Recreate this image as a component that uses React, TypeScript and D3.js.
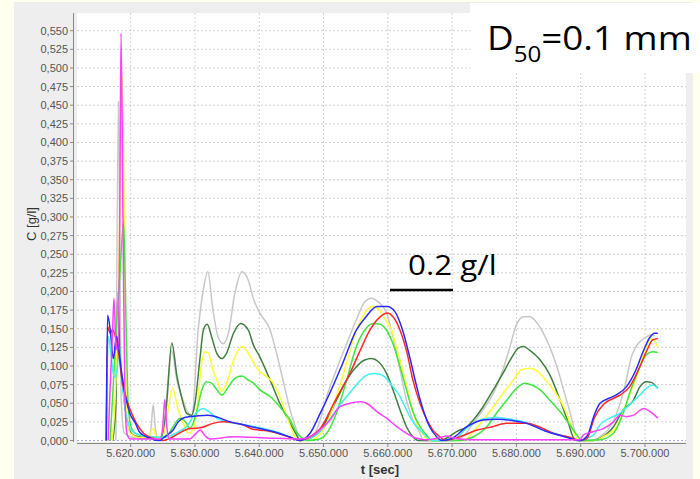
import React from "react";
import * as d3 from "d3";

// concentration series, [t (thousands), C g/l]
const graySeries: [number, number][] = [
  [5617.7, 0], [5618.1, 0.455], [5618.5, 0.06], [5619.0, 0.01], [5620.0, 0.005], [5622.7, 0.002],
  [5623.2, 0.02], [5623.5, 0.048], [5623.8, 0.02], [5624.2, 0.002], [5625.0, 0.01], [5625.6, 0.06],
  [5626.4, 0.12], [5627.2, 0.08], [5627.9, 0.06], [5628.7, 0.041], [5629.5, 0.032], [5630.5, 0.148],
  [5631.3, 0.202], [5632.0, 0.2265], [5632.8, 0.175], [5633.6, 0.139], [5634.4, 0.13], [5635.2, 0.144],
  [5636.2, 0.1975], [5637.3, 0.2265], [5638.3, 0.215], [5639.1, 0.19], [5640.1, 0.171], [5641.7, 0.148],
  [5642.7, 0.117], [5643.7, 0.081], [5644.8, 0.041], [5645.8, 0.014], [5646.3, 0], [5647.9, 0.002],
  [5649.2, 0.02], [5650.5, 0.059], [5652.0, 0.095], [5653.6, 0.13], [5655.1, 0.162], [5656.4, 0.186],
  [5657.5, 0.191], [5658.5, 0.186], [5659.8, 0.171], [5660.8, 0.139], [5661.9, 0.095], [5662.9, 0.054],
  [5663.9, 0.0275], [5665.0, 0.0097], [5665.5, 0], [5670.4, 0], [5672.0, 0.008], [5673.3, 0.023],
  [5674.8, 0.041], [5676.4, 0.063], [5677.9, 0.095], [5679.0, 0.126], [5680.0, 0.155], [5681.1, 0.166],
  [5682.1, 0.166], [5683.1, 0.159], [5684.7, 0.135], [5686.3, 0.099], [5687.8, 0.054], [5688.8, 0.023],
  [5689.4, 0], [5691.5, 0], [5693.0, 0.005], [5695.3, 0.03], [5696.8, 0.07], [5698.0, 0.115],
  [5700.2, 0.139], [5701.1, 0.142], [5701.5, 0.14],
];

const darkGreenSeries: [number, number][] = [
  [5617.2, 0], [5617.7, 0.05], [5618.0, 0.2], [5618.3, 0.12], [5618.8, 0.07], [5619.3, 0.035],
  [5619.9, 0.012], [5620.7, 0.006], [5622.2, 0.004], [5623.8, 0.002], [5624.6, 0.002], [5625.1, 0.01],
  [5625.6, 0.05], [5626.4, 0.131], [5627.2, 0.086], [5627.9, 0.059], [5628.7, 0.0365], [5629.5, 0.034],
  [5630.0, 0.05], [5630.8, 0.112], [5631.3, 0.148], [5631.9, 0.156], [5632.6, 0.139], [5633.4, 0.117],
  [5634.2, 0.11], [5634.9, 0.117], [5636.0, 0.144], [5637.1, 0.157], [5638.3, 0.148], [5639.1, 0.128],
  [5640.1, 0.112], [5641.7, 0.081], [5643.2, 0.05], [5644.8, 0.023], [5645.8, 0.0074], [5646.3, 0],
  [5647.6, 0.002], [5648.9, 0.008], [5650.5, 0.0275], [5652.0, 0.054], [5653.6, 0.081], [5655.1, 0.099],
  [5656.4, 0.108], [5657.5, 0.11], [5658.5, 0.106], [5659.8, 0.09], [5660.8, 0.068], [5661.9, 0.041],
  [5662.9, 0.0185], [5663.9, 0.005], [5664.7, 0], [5668.1, 0], [5669.1, 0.003], [5670.7, 0.012],
  [5672.3, 0.0185], [5673.3, 0.0275], [5674.8, 0.045], [5676.4, 0.068], [5677.9, 0.09], [5679.3, 0.112],
  [5680.3, 0.124], [5681.1, 0.126], [5682.1, 0.121], [5683.7, 0.108], [5685.2, 0.088], [5686.8, 0.054],
  [5688.1, 0.023], [5688.8, 0.005], [5689.4, 0], [5692.0, 0], [5693.0, 0.003], [5695.1, 0.0185],
  [5696.6, 0.041], [5698.2, 0.054], [5699.2, 0.072], [5700.2, 0.079], [5701.0, 0.078], [5702.0, 0.07],
];

const yellowSeries: [number, number][] = [
  [5617.1, 0], [5617.7, 0.08], [5618.2, 0.25], [5618.7, 0.49], [5619.0, 0.3], [5619.2, 0.12],
  [5619.4, 0.04], [5619.9, 0.01], [5621.4, 0.004], [5622.7, 0.004], [5623.5, 0.016], [5624.2, 0.002],
  [5625.0, 0.005], [5625.8, 0.04], [5626.5, 0.07], [5627.4, 0.041], [5628.2, 0.023], [5629.0, 0.0097],
  [5629.7, 0.014], [5630.3, 0.041], [5630.9, 0.095], [5631.6, 0.119], [5632.1, 0.117], [5632.8, 0.095],
  [5633.6, 0.077], [5634.2, 0.066], [5634.9, 0.077], [5636.2, 0.112], [5637.3, 0.126], [5638.3, 0.117],
  [5639.1, 0.105], [5639.8, 0.095], [5641.1, 0.086], [5642.2, 0.077], [5643.2, 0.059], [5644.3, 0.032],
  [5645.3, 0.0097], [5646.0, 0], [5647.5, 0], [5648.9, 0.004], [5650.5, 0.023], [5652.0, 0.059],
  [5653.6, 0.104], [5655.1, 0.148], [5656.4, 0.171], [5657.5, 0.18], [5658.5, 0.177], [5659.5, 0.164],
  [5660.6, 0.148], [5661.6, 0.117], [5662.7, 0.081], [5663.7, 0.045], [5664.7, 0.0185], [5665.8, 0.005],
  [5666.5, 0], [5671.7, 0], [5673.3, 0.012], [5674.8, 0.0275], [5676.4, 0.045], [5677.9, 0.063],
  [5679.5, 0.081], [5680.8, 0.095], [5682.1, 0.097], [5683.4, 0.092], [5684.9, 0.077], [5686.5, 0.059],
  [5687.8, 0.0365], [5688.8, 0.014], [5689.6, 0], [5692.2, 0], [5693.5, 0.005], [5695.6, 0.0185],
  [5697.1, 0.05], [5698.7, 0.086], [5700.0, 0.121], [5701.0, 0.137], [5701.5, 0.133], [5702.0, 0.126],
];

const greenSeries: [number, number][] = [
  [5616.8, 0], [5617.2, 0.06], [5617.9, 0.17], [5618.3, 0.22], [5618.9, 0.294], [5619.3, 0.15],
  [5619.6, 0.05], [5620.0, 0.02], [5620.7, 0.01], [5622.2, 0.006], [5624.6, 0.004], [5625.8, 0.008],
  [5626.6, 0.0185], [5627.7, 0.03], [5628.7, 0.023], [5629.2, 0.016], [5630.3, 0.04], [5631.0, 0.066],
  [5631.8, 0.079], [5632.6, 0.077], [5633.4, 0.068], [5634.2, 0.061], [5635.2, 0.072], [5636.2, 0.0835],
  [5637.3, 0.0866], [5638.3, 0.081], [5639.1, 0.077], [5640.1, 0.068], [5641.7, 0.059], [5643.2, 0.045],
  [5644.8, 0.0275], [5645.8, 0.011], [5646.6, 0.004], [5647.3, 0], [5649.4, 0.002], [5650.5, 0.0097],
  [5652.0, 0.0365], [5653.6, 0.081], [5655.1, 0.126], [5656.4, 0.148], [5657.7, 0.157], [5658.8, 0.156],
  [5659.8, 0.148], [5660.8, 0.13], [5661.9, 0.099], [5662.9, 0.068], [5663.9, 0.0387], [5665.0, 0.0185],
  [5666.0, 0.0074], [5666.9, 0], [5671.2, 0], [5673.3, 0.005], [5675.4, 0.0185], [5676.9, 0.0365],
  [5678.5, 0.054], [5680.0, 0.07], [5681.3, 0.077], [5682.4, 0.0745], [5683.7, 0.068], [5685.2, 0.054],
  [5686.8, 0.0387], [5688.3, 0.021], [5689.4, 0.0074], [5690.2, 0], [5693.0, 0.001], [5695.1, 0.0097],
  [5696.6, 0.0365], [5697.6, 0.063], [5699.2, 0.099], [5700.2, 0.115], [5701.2, 0.119], [5702.0, 0.118],
];

const cyanSeries: [number, number][] = [
  [5616.2, 0], [5616.5, 0.14], [5616.9, 0.12], [5617.4, 0.085], [5617.8, 0.09], [5618.2, 0.125],
  [5618.5, 0.1], [5619.0, 0.05], [5619.4, 0.03], [5620.0, 0.015], [5620.7, 0.01], [5622.2, 0.006],
  [5624.6, 0.004], [5626.1, 0.006], [5627.9, 0.014], [5628.7, 0.0185], [5629.7, 0.032], [5631.3, 0.043],
  [5632.1, 0.039], [5633.4, 0.03], [5635.4, 0.024], [5637.0, 0.022], [5640.1, 0.017], [5643.2, 0.01],
  [5645.6, 0.002], [5646.3, 0], [5647.9, 0.003], [5648.9, 0.0074], [5650.5, 0.023], [5652.0, 0.041],
  [5653.6, 0.059], [5655.1, 0.0745], [5656.4, 0.086], [5657.7, 0.09], [5658.8, 0.089], [5659.8, 0.083],
  [5660.8, 0.072], [5661.9, 0.059], [5662.9, 0.041], [5663.9, 0.025], [5665.0, 0.014], [5666.0, 0.005],
  [5666.9, 0], [5668.9, 0], [5670.4, 0.002], [5672.3, 0.017], [5674.8, 0.029], [5677.0, 0.031],
  [5679.5, 0.028], [5681.6, 0.024], [5684.7, 0.013], [5687.8, 0.005], [5689.9, 0], [5690.9, 0.003],
  [5692.0, 0.0074], [5693.0, 0.021], [5694.5, 0.03], [5696.1, 0.0365], [5697.6, 0.048], [5699.2, 0.061],
  [5700.2, 0.07], [5701.2, 0.0745], [5702.0, 0.07],
];

const redSeries: [number, number][] = [
  [5616.2, 0], [5616.4, 0.153], [5616.8, 0.144], [5617.2, 0.149], [5617.6, 0.14], [5618.0, 0.125],
  [5618.3, 0.105], [5618.8, 0.074], [5619.4, 0.054], [5619.9, 0.042], [5620.9, 0.023], [5622.0, 0.0097],
  [5623.5, 0.003], [5625.0, 0], [5626.6, 0.005], [5628.0, 0.012], [5629.2, 0.016], [5630.8, 0.017],
  [5632.8, 0.023], [5634.4, 0.025], [5635.9, 0.024], [5637.5, 0.021], [5639.0, 0.015], [5641.2, 0.013],
  [5643.2, 0.0087], [5644.8, 0.0043], [5646.3, 0], [5647.9, 0.005], [5649.4, 0.015], [5651.9, 0.055],
  [5654.1, 0.09], [5655.7, 0.121], [5657.2, 0.148], [5658.8, 0.166], [5659.9, 0.171], [5660.8, 0.166],
  [5661.9, 0.148], [5663.0, 0.117], [5663.9, 0.081], [5665.0, 0.05], [5666.1, 0.0275], [5667.0, 0.014],
  [5668.1, 0.005], [5668.9, 0], [5671.2, 0.005], [5673.9, 0.014], [5676.3, 0.0185], [5678.5, 0.023],
  [5681.6, 0.023], [5683.7, 0.0177], [5685.7, 0.0097], [5688.3, 0.0043], [5689.9, 0], [5691.0, 0.003],
  [5692.1, 0.03], [5693.6, 0.049], [5695.2, 0.057], [5696.3, 0.062], [5697.6, 0.072], [5699.2, 0.099],
  [5700.3, 0.121], [5701.2, 0.135], [5702.0, 0.137],
];

const blueSeries: [number, number][] = [
  [5616.2, 0], [5616.4, 0.168], [5616.8, 0.15], [5617.3, 0.11], [5617.8, 0.14], [5618.2, 0.12],
  [5618.6, 0.09], [5619.3, 0.055], [5619.9, 0.036], [5620.7, 0.024], [5621.4, 0.011], [5622.7, 0.004],
  [5624.6, 0], [5625.0, 0.003], [5626.6, 0.014], [5627.4, 0.025], [5628.4, 0.031], [5630.3, 0.033],
  [5632.0, 0.034], [5633.6, 0.031], [5635.1, 0.026], [5637.5, 0.021], [5640.6, 0.015], [5642.8, 0.0105],
  [5644.8, 0.0045], [5646.3, 0], [5647.9, 0.0097], [5649.4, 0.035], [5651.0, 0.064], [5653.0, 0.104],
  [5655.1, 0.148], [5656.6, 0.166], [5658.3, 0.18], [5659.9, 0.18], [5661.1, 0.173], [5662.3, 0.148],
  [5663.4, 0.112], [5664.5, 0.072], [5665.5, 0.041], [5666.5, 0.0185], [5667.6, 0.005], [5668.3, 0],
  [5670.0, 0.003], [5672.3, 0.0185], [5674.8, 0.0275], [5677.0, 0.0285], [5679.5, 0.0266], [5681.6, 0.023],
  [5684.7, 0.012], [5687.8, 0.0043], [5689.9, 0], [5691.0, 0.006], [5692.1, 0.034], [5693.0, 0.05],
  [5694.5, 0.057], [5695.5, 0.061], [5697.1, 0.072], [5698.6, 0.095], [5699.6, 0.117], [5700.8, 0.139],
  [5701.5, 0.144], [5702.0, 0.144],
];

const magentaSeries: [number, number][] = [
  [5616.5, 0], [5616.8, 0.07], [5617.2, 0.15], [5617.4, 0.191], [5617.7, 0.13], [5618.0, 0.12],
  [5618.3, 0.3], [5618.5, 0.5465], [5618.8, 0.3], [5619.1, 0.06], [5619.4, 0.01], [5619.9, 0.002],
  [5624.6, 0.002], [5625.0, 0.02], [5625.3, 0.055], [5625.6, 0.02], [5626.0, 0.002], [5629.2, 0.002],
  [5630.0, 0.008], [5630.8, 0.014], [5631.6, 0.006], [5632.3, 0.002], [5635.9, 0.005], [5642.7, 0.003],
  [5646.3, 0.002], [5647.9, 0.005], [5649.4, 0.014], [5651.0, 0.0275], [5652.5, 0.045], [5654.1, 0.05],
  [5655.7, 0.052], [5656.7, 0.05], [5658.3, 0.0387], [5659.8, 0.03], [5661.4, 0.0185], [5662.9, 0.0097],
  [5664.5, 0.003], [5665.8, 0.001], [5668.1, 0.004], [5669.2, 0.006], [5670.4, 0.003], [5672.8, 0.001],
  [5689.9, 0.001], [5690.4, 0.0074], [5692.0, 0.012], [5693.5, 0.016], [5695.1, 0.025], [5696.1, 0.034],
  [5697.1, 0.032], [5698.2, 0.034], [5699.8, 0.043], [5700.8, 0.0387], [5702.0, 0.03],
];

const seriesList = [
  { data: graySeries, color: "#c8c8c8" },
  { data: darkGreenSeries, color: "#3f7f3f" },
  { data: yellowSeries, color: "#ffff33" },
  { data: greenSeries, color: "#3fe63f" },
  { data: cyanSeries, color: "#3ff0f0" },
  { data: redSeries, color: "#ff2828" },
  { data: blueSeries, color: "#2a2aff" },
  { data: magentaSeries, color: "#ff40ff" },
];

const yTicks = d3.range(0, 0.5501, 0.025);
const xTicks = d3.range(5620, 5700.1, 10);

const locale = d3.formatLocale({ decimal: ",", thousands: ".", grouping: [3], currency: ["", ""] });
const fmtY = locale.format(".3f");
const fmtInt = locale.format(",d");

const App = () => {
  const width = 700;
  const height = 479;
  const plot = { left: 77, right: 686, top: 13, bottom: 442 };

  const xScale = d3.scaleLinear().domain([5611.65, 5706.38]).range([plot.left, plot.right]);
  const yScale = d3.scaleLinear().domain([0, 0.55]).range([440.5, 30.7]);

  const line = d3
    .line<[number, number]>()
    .x((d) => xScale(d[0]))
    .y((d) => yScale(d[1]))
    .curve(d3.curveMonotoneX);

  const axisFont = "'Liberation Sans', Arial, sans-serif";
  const slideFont = "'Open Sans', sans-serif";

  return (
    <svg width={width} height={height} style={{ position: "absolute", left: 0, top: 0 }}>
      <defs>
        <clipPath id="plotClip">
          <rect x={plot.left} y={plot.top} width={plot.right - plot.left} height={plot.bottom - plot.top} />
        </clipPath>
      </defs>
      <rect x={0} y={0} width={width} height={height} fill="#fffff0" />
      <rect x={14} y={2} width={679} height={height - 2} fill="#eeeeee" />
      <rect x={plot.left} y={plot.top} width={plot.right - plot.left} height={plot.bottom - plot.top} fill="#fff" />

      {yTicks.slice(1).map((t, i) => (
        <line key={i} x1={plot.left} x2={plot.right} y1={yScale(t)} y2={yScale(t)}
          stroke="#c4c4c4" strokeWidth={0.8} strokeDasharray="2,2" />
      ))}
      {xTicks.map((t, i) => (
        <line key={i} x1={xScale(t)} x2={xScale(t)} y1={plot.top} y2={plot.bottom}
          stroke="#c4c4c4" strokeWidth={0.8} strokeDasharray="2,2" />
      ))}
      <line x1={plot.left} x2={plot.right} y1={yScale(0)} y2={yScale(0)}
        stroke="#a8a8f0" strokeWidth={1} strokeDasharray="2,2" />

      <g clipPath="url(#plotClip)">
        {seriesList.map((s, i) => (
          <path key={i} d={line(s.data) || ""} fill="none" stroke={s.color} strokeWidth={1.5} strokeLinejoin="round" />
        ))}
      </g>

      {/* y axis */}
      <line x1={73.5} x2={73.5} y1={plot.top} y2={plot.bottom} stroke="#888" />
      {yTicks.map((t, i) => (
        <g key={i}>
          <line x1={70} x2={73.5} y1={yScale(t)} y2={yScale(t)} stroke="#888" />
          <text x={68} y={yScale(t) + 4} textAnchor="end" fontSize={11} fontFamily={axisFont} fill="#555">
            {fmtY(t)}
          </text>
        </g>
      ))}
      <text transform="translate(36,224) rotate(-90)" textAnchor="middle" fontSize={13}
        fontFamily={axisFont} fill="#333">
        C [g/l]
      </text>

      {/* x axis */}
      <line x1={plot.left} x2={plot.right} y1={443.5} y2={443.5} stroke="#888" />
      {xTicks.map((t, i) => (
        <g key={i}>
          <line x1={xScale(t)} x2={xScale(t)} y1={443.5} y2={447} stroke="#888" />
          <text x={xScale(t)} y={457} textAnchor="middle" fontSize={11} fontFamily={axisFont} fill="#555">
            {fmtInt(Math.round(t * 1000))}
          </text>
        </g>
      ))}
      <text x={380} y={474} textAnchor="middle" fontSize={13} fontWeight="bold" fontFamily={axisFont} fill="#333">
        t [sec]
      </text>

      {/* annotations */}
      <rect x={470} y={3} width={230} height={70} fill="#fff" />
      <text transform="translate(487,50) scale(1.15,1)" fontSize={32} fontFamily={slideFont} fill="#000">
        D<tspan fontSize={21} dy={12}>50</tspan><tspan dy={-12}>=0.1 mm</tspan>
      </text>
      <text transform="translate(408,275) scale(1.12,1)" fontSize={28} fontFamily={slideFont} fill="#000">
        0.2 g/l
      </text>
      <line x1={390} x2={453} y1={290} y2={290} stroke="#000" strokeWidth={2.5} />
    </svg>
  );
};

export default App;
